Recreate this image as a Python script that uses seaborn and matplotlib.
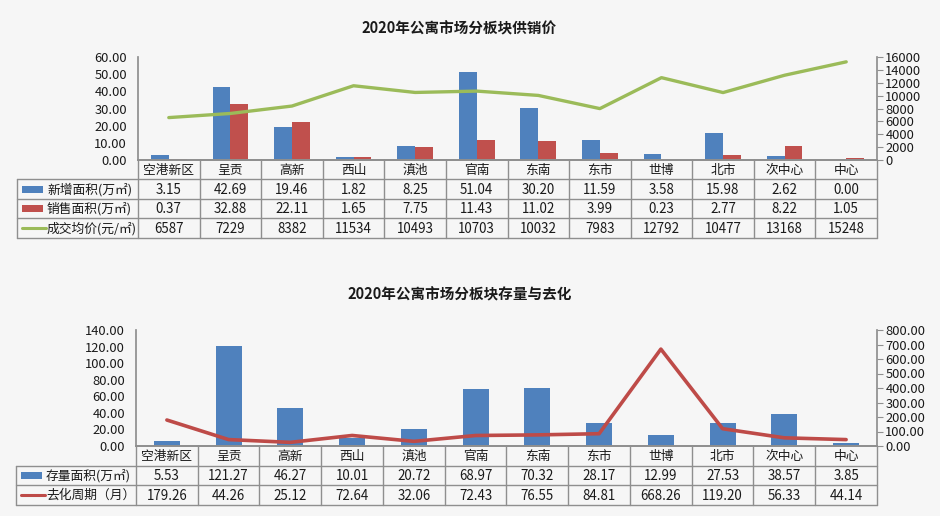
import numpy as np
import pandas as pd
import matplotlib
matplotlib.use("Agg")
import matplotlib.pyplot as plt
from matplotlib.patches import Rectangle
from matplotlib.lines import Line2D
import seaborn as sns

# ---------------- data ----------------
districts = ["空港新区", "呈贡", "高新", "西山", "滇池", "官南", "东南", "东市", "世博", "北市", "次中心", "中心"]
new_area = [3.15, 42.69, 19.46, 1.82, 8.25, 51.04, 30.20, 11.59, 3.58, 15.98, 2.62, 0.00]
sold_area = [0.37, 32.88, 22.11, 1.65, 7.75, 11.43, 11.02, 3.99, 0.23, 2.77, 8.22, 1.05]
avg_price = [6587, 7229, 8382, 11534, 10493, 10703, 10032, 7983, 12792, 10477, 13168, 15248]
stock_area = [5.53, 121.27, 46.27, 10.01, 20.72, 68.97, 70.32, 28.17, 12.99, 27.53, 38.57, 3.85]
cycle_months = [179.26, 44.26, 25.12, 72.64, 32.06, 72.43, 76.55, 84.81, 668.26, 119.20, 56.33, 44.14]

new_label = "新增面积(万㎡)"
sold_label = "销售面积(万㎡)"
price_label = "成交均价(元/㎡)"
stock_label = "存量面积(万㎡)"
cycle_label = "去化周期（月）"
title1 = "2020年公寓市场分板块供销价"
title2 = "2020年公寓市场分板块存量与去化"

# ---------------- style ----------------
sns.set_theme(style="white")
plt.rcParams["font.family"] = ["Noto Sans CJK SC", "DejaVu Sans"]
plt.rcParams["axes.unicode_minus"] = False

BG = "#f6f6f6"
BLUE = "#4f81bd"
RED = "#c0504d"
GREEN = "#9bbb59"
LINE_RED = "#be4b48"
GRID = "#8f8f8f"
TXT = "#1a1a1a"

TICK_FS = 9.3
CAT_FS = 9.2
NUM_FS = 9.6
LAB_FS = 9.2

W, H = 940, 516
fig = plt.figure(figsize=(W / 100, H / 100), dpi=100, facecolor=BG)


def px_axes(x0, y0, x1, y1):
    return fig.add_axes([x0 / W, 1 - y1 / H, (x1 - x0) / W, (y1 - y0) / H])


n = len(districts)
pos = np.arange(n)


def style_main(ax, ax2):
    for a in (ax, ax2):
        a.set_facecolor("none")
        a.spines["top"].set_visible(False)
        a.spines["left"].set_color(GRID)
        a.spines["right"].set_color(GRID)
        a.spines["bottom"].set_color(GRID)
        a.set_xlim(-0.5, n - 0.5)
        a.set_xticks([])
        a.set_xlabel("")
        a.set_ylabel("")
    ax.spines["right"].set_visible(False)
    ax2.spines["left"].set_visible(False)
    ax.tick_params(axis="y", length=0, pad=8, labelsize=TICK_FS, labelcolor=TXT)
    ax2.tick_params(axis="y", length=4, width=0.8, color=GRID, pad=2, labelsize=TICK_FS,
                    labelcolor=TXT, direction="out")


def draw_table(x0, y0, x1, y1, col_left_px, rows):
    nrows = len(rows) + 1
    tax = px_axes(x0, y0, x1, y1)
    unit = (x1 - col_left_px) / n
    left = -0.5 - (col_left_px - x0) / unit
    tax.set_xlim(left, n - 0.5)
    tax.set_ylim(nrows, 0)
    tax.axis("off")
    lw = 1.0
    for r in range(1, nrows + 1):
        tax.add_line(Line2D([left, n - 0.5], [r, r], color=GRID, lw=lw, clip_on=False))
    for k in range(n + 1):
        tax.add_line(Line2D([-0.5 + k, -0.5 + k], [0, nrows], color=GRID, lw=lw, clip_on=False))
    tax.add_line(Line2D([left, left], [1, nrows], color=GRID, lw=lw, clip_on=False))
    for i, d in enumerate(districts):
        tax.text(i, 0.52, d, ha="center", va="center", fontsize=CAT_FS, color=TXT)
    px = 1 / unit
    for r, (label, kind, color, vals) in enumerate(rows, start=1):
        yc = r + 0.5
        mx0 = left + 5 * px
        if kind == "bar":
            tax.add_patch(Rectangle((mx0, yc - 0.17), 21 * px, 0.34, color=color, lw=0, clip_on=False))
        else:
            tax.add_line(Line2D([mx0, mx0 + 24 * px], [yc, yc], color=color, lw=2.2, clip_on=False))
        tax.text(left + 30 * px, yc + 0.02, label, ha="left", va="center", fontsize=LAB_FS, color=TXT)
        for i, v in enumerate(vals):
            tax.text(i, yc + 0.02, v, ha="center", va="center", fontsize=NUM_FS, color=TXT)
    return tax


# ---------------- top chart ----------------
fig.text(459 / W, 1 - 28 / H, title1, ha="center", va="center", fontsize=10.5,
         fontweight="bold", color=TXT)

ax1 = px_axes(138, 57, 877, 160)
df1 = pd.DataFrame({
    "district": districts * 2,
    "value": new_area + sold_area,
    "series": [new_label] * n + [sold_label] * n,
})
sns.barplot(data=df1, x="district", y="value", hue="series", order=districts,
            hue_order=[new_label, sold_label], palette=[BLUE, RED], width=0.58,
            saturation=1, legend=False, ax=ax1, linewidth=0)
ax1.set_ylim(0, 60)
ax1.set_yticks(np.arange(0, 61, 10))
ax1.set_yticklabels([f"{v:.2f}" for v in np.arange(0, 61, 10)])

ax1b = ax1.twinx()
sns.lineplot(x=pos, y=avg_price, ax=ax1b, color=GREEN, lw=2.4)
ax1b.set_ylim(0, 16000)
ax1b.set_yticks(np.arange(0, 16001, 2000))
ax1b.set_yticklabels([f"{int(v)}" for v in np.arange(0, 16001, 2000)])
style_main(ax1, ax1b)

draw_table(17, 160, 877, 238, 138, [
    (new_label, "bar", BLUE, [f"{v:.2f}" for v in new_area]),
    (sold_label, "bar", RED, [f"{v:.2f}" for v in sold_area]),
    (price_label, "line", GREEN, [f"{v}" for v in avg_price]),
])

# ---------------- bottom chart ----------------
fig.text(460 / W, 1 - 294 / H, title2, ha="center", va="center", fontsize=10.5,
         fontweight="bold", color=TXT)

ax2 = px_axes(136, 330, 877, 446)
df2 = pd.DataFrame({"district": districts, "value": stock_area})
sns.barplot(data=df2, x="district", y="value", order=districts, color=BLUE,
            width=0.42, saturation=1, ax=ax2, linewidth=0)
ax2.set_ylim(0, 140)
ax2.set_yticks(np.arange(0, 141, 20))
ax2.set_yticklabels([f"{v:.2f}" for v in np.arange(0, 141, 20)])

ax2b = ax2.twinx()
sns.lineplot(x=pos, y=cycle_months, ax=ax2b, color=LINE_RED, lw=2.6)
ax2b.set_ylim(0, 800)
ax2b.set_yticks(np.arange(0, 801, 100))
ax2b.set_yticklabels([f"{v:.2f}" for v in np.arange(0, 801, 100)])
style_main(ax2, ax2b)

draw_table(16, 446, 877, 505, 136, [
    (stock_label, "bar", BLUE, [f"{v:.2f}" for v in stock_area]),
    (cycle_label, "line", LINE_RED, [f"{v:.2f}" for v in cycle_months]),
])

fig.savefig("out.png", dpi=100, facecolor=BG)
